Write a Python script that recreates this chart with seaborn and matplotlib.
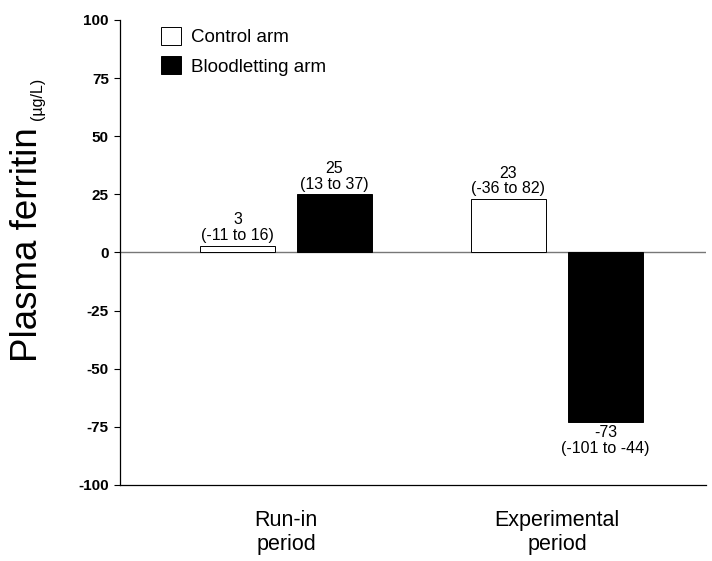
import pandas as pd
import numpy as np
import matplotlib.pyplot as plt
import seaborn as sns

# Data
periods = ["Run-in\nperiod", "Experimental\nperiod"]
arms = ["Control arm", "Bloodletting arm"]
control_vals = [3, 23]
bloodletting_vals = [25, -73]
control_ci = ["(-11 to 16)", "(-36 to 82)"]
bloodletting_ci = ["(13 to 37)", "(-101 to -44)"]
y_ticks = [-100, -75, -50, -25, 0, 25, 50, 75, 100]

df = pd.DataFrame({
    "Period": periods * 2,
    "Arm": [arms[0]] * 2 + [arms[1]] * 2,
    "Ferritin": control_vals + bloodletting_vals,
})

sns.set_theme(style="ticks")
plt.rcParams["font.family"] = ["Liberation Sans", "DejaVu Sans"]
# plain black text like the original figure
for key in ["text.color", "axes.labelcolor", "xtick.color", "ytick.color"]:
    plt.rcParams[key] = "black"

fig = plt.figure(figsize=(7.12, 5.61), dpi=100)
ax = fig.add_axes([0.1685, 0.1355, 0.8230, 0.8289])

ax.axhline(0, color="#777777", linewidth=1, zorder=0)

sns.barplot(
    data=df, x="Period", y="Ferritin", hue="Arm",
    order=periods, hue_order=arms,
    palette={"Control arm": "white", "Bloodletting arm": "black"},
    edgecolor="black", linewidth=0.7,
    width=0.716, gap=0.226, ax=ax, zorder=2,
)

# value + CI labels on each bar
for cont, vals, cis in zip(ax.containers, [control_vals, bloodletting_vals],
                           [control_ci, bloodletting_ci]):
    labels = [f"{v}\n{c}" for v, c in zip(vals, cis)]
    ax.bar_label(cont, labels=labels, padding=2, fontsize=11.5, linespacing=1.05)

ax.set_ylim(-100, 100)
ax.set_xlim(-0.6125, 1.5498)
ax.set_yticks(y_ticks)
ax.set_yticklabels([str(t) for t in y_ticks], fontweight="bold", fontsize=11)
ax.tick_params(axis="y", length=4, width=0.8, pad=4, color="black")
ax.tick_params(axis="x", length=0, pad=18, labelsize=15.5)
ax.set_xlabel("")
ax.set_ylabel("")

for side in ["top", "right"]:
    ax.spines[side].set_visible(False)
for side in ["left", "bottom"]:
    ax.spines[side].set_color("black")
    ax.spines[side].set_linewidth(0.9)

# y label in two sizes
fig.text(0.038, 1 - 362 / 561, "Plasma ferritin", rotation=90,
         ha="center", va="bottom", fontsize=26.5)
fig.text(0.052, 1 - 78 / 561, "(\u00b5g/L)", rotation=90,
         ha="center", va="top", fontsize=11.5)

handles, labels = ax.get_legend_handles_labels()
ax.legend(handles=handles, labels=labels, loc="upper left",
          bbox_to_anchor=(0.07, 0.985), frameon=False, fontsize=13.5,
          handlelength=1.07, handleheight=1.07, handletextpad=0.55,
          labelspacing=0.55, borderpad=0, borderaxespad=0)

fig.savefig("out.png", dpi=100)
